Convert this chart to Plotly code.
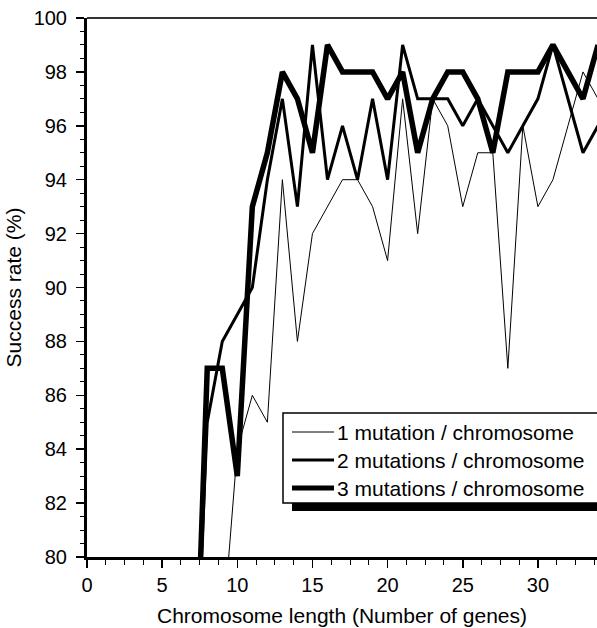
import plotly.graph_objects as go

# Chromosome length (number of genes)
genes = [7, 8, 9, 10, 11, 12, 13, 14, 15, 16, 17, 18, 19, 20, 21, 22, 23, 24, 25, 26, 27, 28, 29, 30, 31, 32, 33, 34]

# Success rate (%) per series
one_mutation = [None, None, 77, 84, 86, 85, 94, 88, 92, 93, 94, 94, 93, 91, 97, 92, 97, 96, 93, 95, 95, 87, 96, 93, 94, 96, 98, 97]
two_mutations = [72, 85, 88, 89, 90, 94, 97, 93, 99, 94, 96, 94, 97, 94, 99, 97, 97, 97, 96, 97, 96, 95, 96, 97, 99, 97, 95, 96]
three_mutations = [71, 87, 87, 83, 93, 95, 98, 97, 95, 99, 98, 98, 98, 97, 98, 95, 97, 98, 98, 97, 95, 98, 98, 98, 99, 98, 97, 99]

series_names = ["1 mutation / chromosome", "2 mutations / chromosome", "3 mutations / chromosome"]
x_ticks = [0, 5, 10, 15, 20, 25, 30]
y_ticks = [80, 82, 84, 86, 88, 90, 92, 94, 96, 98, 100]

FONT = "Liberation Sans, Arial, sans-serif"
W, H = 597, 628
L, R, T, B = 87, 0, 18, 71
pw, ph = W - L - R, H - T - B

def px(xp):
    return (xp - L) / pw

def py(yp):
    return (H - B - yp) / ph

fig = go.Figure()
widths = [1, 3, 5.5]
for name, vals, w in zip(series_names, [one_mutation, two_mutations, three_mutations], widths):
    fig.add_trace(go.Scatter(x=genes, y=vals, mode="lines", name=name,
                             line=dict(color="black", width=w), connectgaps=False,
                             showlegend=False, hoverinfo="skip"))

fig.update_layout(
    width=W, height=H,
    margin=dict(l=L, r=R, t=T, b=B, autoexpand=False),
    paper_bgcolor="white", plot_bgcolor="white",
    font=dict(family=FONT, size=20, color="black"),
)

fig.update_xaxes(
    range=[0, pw / 15.03], tickmode="array", tickvals=x_ticks, ticktext=[str(v) for v in x_ticks],
    ticks="outside", ticklen=8, tickwidth=1.5, tickcolor="black",
    showline=True, linewidth=3, linecolor="black", showgrid=False, zeroline=False,
    minor=dict(ticks="outside", tick0=0, dtick=1.25, ticklen=5, tickwidth=1, tickcolor="black", showgrid=False),
    tickfont=dict(size=20, family=FONT, color="black"),
    title=dict(text="Chromosome length (Number of genes)", standoff=14, font=dict(size=21, family=FONT, color="black")),
    automargin=False,
)
fig.update_yaxes(
    range=[80, 100], tickmode="array", tickvals=y_ticks, ticktext=[str(v) for v in y_ticks],
    ticks="outside", ticklen=8, tickwidth=1.5, tickcolor="black", ticklabelstandoff=5,
    showline=True, linewidth=3, linecolor="black", showgrid=False, zeroline=False,
    minor=dict(ticks="outside", tick0=80, dtick=0.5, ticklen=4, tickwidth=1, tickcolor="black", showgrid=False),
    tickfont=dict(size=20, family=FONT, color="black"),
    title=dict(text="Success rate (%)", standoff=7, font=dict(size=21, family=FONT, color="black")),
    automargin=False,
)

shapes = []
# top frame line
shapes.append(dict(type="line", xref="paper", yref="paper", x0=0, x1=1.2, y0=1, y1=1,
                   line=dict(color="#333333", width=2)))
# legend shadow
shapes.append(dict(type="rect", xref="paper", yref="paper", x0=px(292), x1=px(720), y0=py(511), y1=py(430),
                   fillcolor="black", line=dict(width=0)))
# legend box
shapes.append(dict(type="rect", xref="paper", yref="paper", x0=px(283), x1=px(710), y0=py(503), y1=py(413),
                   fillcolor="white", line=dict(color="black", width=1.5)))
rows = [432, 460, 488]
annotations = []
for name, w, r in zip(series_names, widths, rows):
    shapes.append(dict(type="line", xref="paper", yref="paper", x0=px(292), x1=px(334), y0=py(r), y1=py(r),
                       line=dict(color="black", width=min(w, 5))))
    annotations.append(dict(xref="paper", yref="paper", x=px(335), y=py(r), text=name, showarrow=False,
                            xanchor="left", yanchor="middle", font=dict(size=21, family=FONT, color="black")))
fig.update_layout(shapes=shapes, annotations=annotations)

fig.write_html("out.html", config={"displayModeBar": False, "staticPlot": True},
               post_script="document.body.style.margin='0';document.body.style.overflow='hidden';")
